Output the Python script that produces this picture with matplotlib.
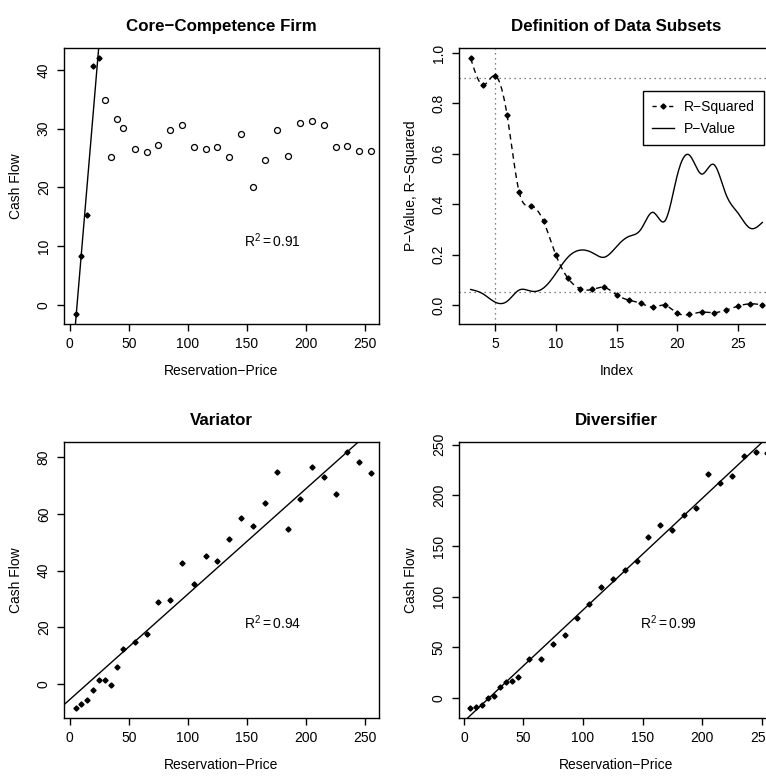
import matplotlib
matplotlib.use("Agg")
import matplotlib.pyplot as plt
import numpy as np

plt.rcParams['font.family'] = ['Liberation Sans', 'DejaVu Sans']
plt.rcParams['font.size'] = 10
plt.rcParams['mathtext.fontset'] = 'custom'
plt.rcParams['mathtext.rm'] = 'Liberation Sans'
plt.rcParams['mathtext.it'] = 'Liberation Sans:italic'

# reservation prices shared by the three firm panels
price = [5, 10, 15, 20, 25, 30, 35, 40, 45, 55, 65, 75, 85, 95, 105,
         115, 125, 135, 145, 155, 165, 175, 185, 195, 205, 215, 225, 235, 245, 255]

core_cf = [-1.5, 8.3, 15.3, 40.6, 42.0, 34.8, 25.1, 31.6, 30.1, 26.6, 26.0, 27.2,
           29.8, 30.6, 26.9, 26.6, 26.9, 25.2, 29.1, 20.1, 24.6, 29.7, 25.4, 31.0,
           31.3, 30.7, 26.9, 27.1, 26.2, 26.2]
core_n = 5  # points in the fitted subset

variator_cf = [-8.6, -7.2, -5.7, -2.1, 1.3, 1.5, -0.4, 6.0, 12.1, 14.7, 17.5, 29.0,
               29.6, 42.8, 35.2, 45.0, 43.3, 51.0, 58.5, 55.8, 63.9, 74.7, 54.5, 65.2,
               76.6, 73.1, 67.2, 81.8, 78.2, 74.3]

diversifier_cf = [-9.8, -8.9, -6.9, -0.7, 1.3, 10.5, 15.4, 16.7, 21.0, 38.1, 38.1, 52.8,
                  62.0, 79.1, 92.8, 109.9, 117.5, 126.3, 135.2, 159.1, 170.3, 166.0,
                  180.8, 187.0, 221.5, 211.9, 219.5, 239.2, 242.5, 242.1]

# subset definition curves
subset_idx = list(range(3, 28))
r_squared = [0.979, 0.873, 0.910, 0.753, 0.447, 0.393, 0.332, 0.200, 0.107, 0.065,
             0.062, 0.070, 0.041, 0.020, 0.007, -0.008, -0.001, -0.032, -0.037,
             -0.028, -0.030, -0.020, -0.004, 0.005, 0.001]
p_value = [0.062, 0.045, 0.012, 0.015, 0.060, 0.055, 0.068, 0.125, 0.190, 0.218,
           0.208, 0.190, 0.232, 0.272, 0.300, 0.368, 0.335, 0.515, 0.595, 0.520,
           0.558, 0.440, 0.365, 0.305, 0.328]


def spline(x, y, xs):
    # natural cubic spline evaluated at xs
    x = np.asarray(x, float)
    y = np.asarray(y, float)
    n = len(x)
    h = np.diff(x)
    A = np.zeros((n, n))
    rhs = np.zeros(n)
    A[0, 0] = A[-1, -1] = 1
    for i in range(1, n - 1):
        A[i, i - 1] = h[i - 1]
        A[i, i] = 2 * (h[i - 1] + h[i])
        A[i, i + 1] = h[i]
        rhs[i] = 3 * ((y[i + 1] - y[i]) / h[i] - (y[i] - y[i - 1]) / h[i - 1])
    c = np.linalg.solve(A, rhs)
    b = (y[1:] - y[:-1]) / h - h * (2 * c[:-1] + c[1:]) / 3
    d = (c[1:] - c[:-1]) / (3 * h)
    k = np.clip(np.searchsorted(x, xs) - 1, 0, n - 2)
    t = xs - x[k]
    return y[k] + b[k] * t + c[k] * t ** 2 + d[k] * t ** 3


def style(ax, title, xlabel, ylabel):
    for s in ax.spines.values():
        s.set_linewidth(1.0)
    ax.tick_params(direction='out', length=5, width=1.0, pad=4.5, labelsize=10)
    ax.tick_params(axis='y', labelrotation=90)
    for lab in ax.get_yticklabels():
        lab.set_va('center')
    ax.set_title(title, fontsize=12.2, fontweight='bold', pad=12)
    ax.set_xlabel(xlabel, labelpad=9)
    ax.set_ylabel(ylabel, labelpad=10)


fig = plt.figure(figsize=(7.66, 7.76), dpi=100)
W, H = 766, 776


def panel(left, top):
    return fig.add_axes([left / W, 1 - (top + 276) / H, 315 / W, 276 / H])


px = np.array(price, float)

# Core-Competence Firm
ax1 = panel(64, 48)
m, b = np.polyfit(px[:core_n], core_cf[:core_n], 1)
ax1.axline((0, b), slope=m, color='black', lw=1.0)
ax1.plot(px[:core_n], core_cf[:core_n], 'D', color='black', ms=2.6)
ax1.plot(px[core_n:], core_cf[core_n:], 'o', mfc='none', mec='black', ms=4.3, mew=0.9)
ax1.set_xlim(-4.8, 261.7)
ax1.set_ylim(-3.2, 43.7)
ax1.set_xticks([0, 50, 100, 150, 200, 250])
ax1.set_yticks([0, 10, 20, 30, 40])
ax1.text(172, 11, r'$\mathrm{R^2 = 0.91}$', ha='center', va='center', fontsize=10)
style(ax1, 'Core\u2212Competence Firm', 'Reservation\u2212Price', 'Cash Flow')

# Definition of Data Subsets
ax2 = panel(459, 48)
xs = np.linspace(3, 27, 500)
ax2.axhline(0.9, color='0.35', lw=0.9, ls=(0, (1, 3)))
ax2.axhline(0.05, color='0.35', lw=0.9, ls=(0, (1, 3)))
ax2.axvline(5, color='0.35', lw=0.9, ls=(0, (1, 3)))
ax2.plot(xs, spline(subset_idx, r_squared, xs), color='black', lw=1.0, ls=(0, (4, 3)))
ax2.plot(subset_idx, r_squared, 'D', color='black', ms=2.6)
ax2.plot(xs, spline(subset_idx, p_value, xs), color='black', lw=1.0)
h1, = ax2.plot([], [], color='black', lw=1.0, ls=(0, (3, 3)), marker='D', ms=2.6)
h2, = ax2.plot([], [], color='black', lw=1.0)
leg = ax2.legend([h1, h2], ['R\u2212Squared', 'P\u2212Value'], loc='upper right',
                 bbox_to_anchor=(0.968, 0.844), borderaxespad=0, fancybox=False,
                 edgecolor='black', framealpha=1, fontsize=10, handlelength=1.6,
                 handletextpad=0.7, labelspacing=0.55, borderpad=0.65)
leg.get_frame().set_linewidth(1.0)
ax2.set_xlim(2.04, 27.96)
ax2.set_ylim(-0.075, 1.02)
ax2.set_xticks([5, 10, 15, 20, 25])
ax2.set_yticks([0, 0.2, 0.4, 0.6, 0.8, 1.0])
ax2.set_yticklabels(['0.0', '0.2', '0.4', '0.6', '0.8', '1.0'])
style(ax2, 'Definition of Data Subsets', 'Index', 'P\u2212Value, R\u2212Squared')

# Variator
ax3 = panel(64, 442)
m, b = np.polyfit(px, variator_cf, 1)
ax3.axline((0, b), slope=m, color='black', lw=1.0)
ax3.plot(px, variator_cf, 'D', color='black', ms=2.6)
ax3.set_xlim(-4.8, 261.7)
ax3.set_ylim(-12.1, 85.4)
ax3.set_xticks([0, 50, 100, 150, 200, 250])
ax3.set_yticks([0, 20, 40, 60, 80])
ax3.text(172, 21.7, r'$\mathrm{R^2 = 0.94}$', ha='center', va='center', fontsize=10)
style(ax3, 'Variator', 'Reservation\u2212Price', 'Cash Flow')

# Diversifier
ax4 = panel(459, 442)
m, b = np.polyfit(px, diversifier_cf, 1)
ax4.axline((0, b), slope=m, color='black', lw=1.0)
ax4.plot(px, diversifier_cf, 'D', color='black', ms=2.6)
ax4.set_xlim(-4.2, 260.5)
ax4.set_ylim(-20.0, 252.7)
ax4.set_xticks([0, 50, 100, 150, 200, 250])
ax4.set_yticks([0, 50, 100, 150, 200, 250])
ax4.text(172, 74.5, r'$\mathrm{R^2 = 0.99}$', ha='center', va='center', fontsize=10)
style(ax4, 'Diversifier', 'Reservation\u2212Price', 'Cash Flow')

fig.savefig('out.png', dpi=100)
